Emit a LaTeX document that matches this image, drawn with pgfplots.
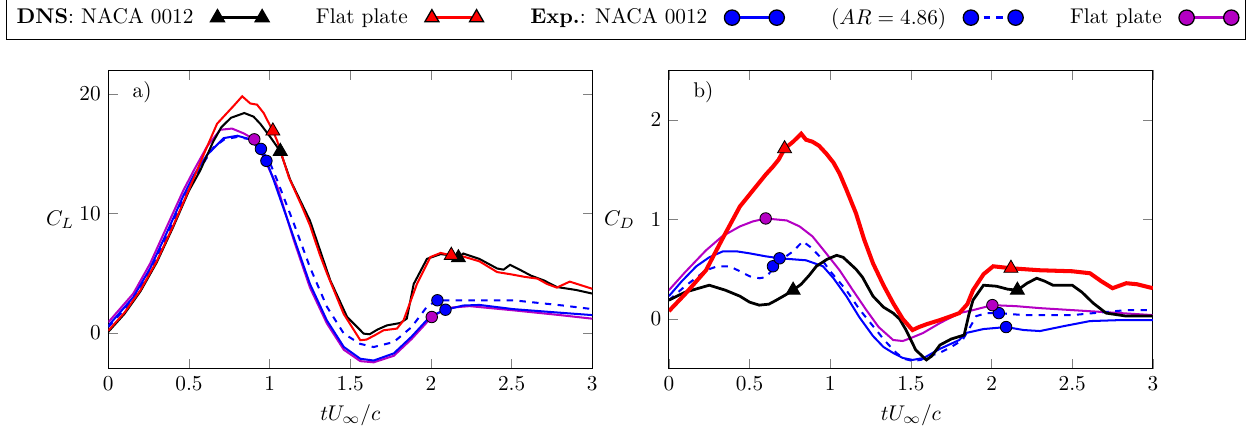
\documentclass[border=0pt]{standalone}
\usepackage{pgfplots}
\pgfplotsset{compat=1.18}
\definecolor{mag}{RGB}{180,0,195}
\definecolor{myblue}{RGB}{0,0,255}
\definecolor{myred}{RGB}{255,0,0}
\begin{document}
\begin{tikzpicture}
\pgfplotsset{
  myax/.style={
    scale only axis, width=227.5pt, height=140.5pt,
    xmin=0, xmax=3, xtick={0,0.5,1,1.5,2,2.5,3},
    xlabel={$tU_\infty/c$},
    every axis y label/.style={at={(axis description cs:-0.055,0.5)},anchor=east},
    major tick length=4.5pt,
  },
  ln/.style={line width=0.95pt},
  tri/.style={only marks, mark=triangle*, mark size=3.8pt, mark options={draw=black, line width=0.7pt}},
  circ/.style={only marks, mark=*, mark size=2.7pt, mark options={draw=black, line width=0.7pt}},
}
% ---------------- C_L ----------------
\begin{axis}[myax, ymin=-3, ymax=22, ytick={0,10,20}, ylabel={$C_L$},
  legend columns=5, legend plot pos=right, legend cell align=left,
  legend image code/.code={\draw[#1] plot coordinates {(0pt,0pt) (21pt,0pt)};},
  legend style={at={(1.069,1.100)}, anchor=south, draw=black, line width=0.5pt,
    inner ysep=3.8pt,
    /tikz/every odd column/.style={column sep=6pt},
    /tikz/every even column/.style={column sep=20pt}},
]
\addlegendimage{black, line width=1.6pt, mark=triangle*, mark size=3.8pt, mark options={fill=black, draw=black, line width=0.6pt}}
\addlegendentry{\textbf{DNS}: NACA 0012}
\addlegendimage{myred, line width=1.6pt, mark=triangle*, mark size=3.8pt, mark options={fill=myred, draw=black, line width=0.6pt}}
\addlegendentry{Flat plate}
\addlegendimage{myblue, line width=1.6pt, mark=*, mark size=3.6pt, mark options={fill=myblue, draw=black, line width=0.6pt}}
\addlegendentry{\textbf{Exp.}: NACA 0012}
\addlegendimage{myblue, line width=1.6pt, dashed, mark=*, mark size=3.6pt, mark options={solid, fill=myblue, draw=black, line width=0.6pt}}
\addlegendentry{$(AR=4.86)$}
\addlegendimage{mag, line width=1.6pt, mark=*, mark size=3.6pt, mark options={fill=mag, draw=black, line width=0.6pt}}
\addlegendentry{Flat plate}
% Exp flat plate
\addplot[mag, ln, forget plot] coordinates {(0,0.9) (0.155,3.3) (0.259,5.8) (0.363,8.9) (0.466,11.95) (0.53,13.6) (0.612,15.6) (0.694,17.0) (0.767,17.1) (0.839,16.7) (0.905,16.2) (0.963,14.7) (1.046,12.3) (1.149,7.8) (1.25,3.8) (1.355,0.8) (1.46,-1.4) (1.562,-2.35) (1.645,-2.45) (1.77,-1.9) (1.88,-0.5) (2.005,1.34) (2.1,2.1) (2.24,2.25) (2.51,1.9) (2.8,1.5) (3.0,1.2)};
% Exp NACA solid
\addplot[myblue, ln, forget plot] coordinates {(0,0.6) (0.155,3.0) (0.259,5.4) (0.363,8.4) (0.466,11.5) (0.53,13.2) (0.612,14.9) (0.715,16.3) (0.80,16.5) (0.88,16.2) (0.946,15.2) (0.98,14.4) (1.025,12.8) (1.149,8.0) (1.25,4.1) (1.355,1.05) (1.46,-1.17) (1.562,-2.15) (1.645,-2.3) (1.77,-1.7) (1.88,-0.3) (1.996,1.4) (2.09,1.95) (2.2,2.3) (2.3,2.35) (2.51,2.0) (2.8,1.7) (3.0,1.5)};
% Exp AR dashed
\addplot[myblue, ln, dashed, forget plot] coordinates {(0,0.5) (0.155,2.8) (0.259,5.2) (0.363,8.1) (0.466,11.2) (0.57,13.8) (0.65,15.5) (0.72,16.2) (0.80,16.4) (0.88,16.2) (0.946,15.4) (1.0,14.3) (1.046,12.8) (1.149,9.2) (1.25,5.5) (1.355,2.2) (1.46,-0.05) (1.56,-0.9) (1.645,-1.17) (1.77,-0.75) (1.88,0.5) (1.975,2.2) (2.04,2.74) (2.24,2.74) (2.51,2.74) (2.82,2.3) (3.0,2.0)};
% DNS NACA
\addplot[black, ln, forget plot] coordinates {(0,0.1) (0.1,1.6) (0.2,3.5) (0.3,5.9) (0.4,8.8) (0.5,11.9) (0.57,13.6) (0.65,16.0) (0.7,17.2) (0.76,18.0) (0.843,18.4) (0.9,18.1) (0.942,17.5) (1.004,16.4) (1.066,15.2) (1.128,12.8) (1.25,9.4) (1.376,4.4) (1.48,1.35) (1.583,-0.05) (1.62,-0.1) (1.67,0.3) (1.727,0.64) (1.81,0.84) (1.85,1.2) (1.893,4.1) (1.975,6.2) (2.06,6.6) (2.12,6.5) (2.17,6.3) (2.2,6.65) (2.3,6.2) (2.41,5.4) (2.45,5.3) (2.49,5.7) (2.55,5.3) (2.62,4.8) (2.7,4.4) (2.78,3.85) (2.9,3.6) (3.0,3.3)};
% DNS flat plate
\addplot[myred, ln, forget plot] coordinates {(0,0.2) (0.1,1.7) (0.2,3.6) (0.3,6.0) (0.4,8.9) (0.5,12.0) (0.6,15.2) (0.674,17.5) (0.715,18.1) (0.777,19.0) (0.83,19.8) (0.88,19.2) (0.922,19.1) (0.963,18.4) (1.02,16.9) (1.046,16.1) (1.12,13.0) (1.2,10.6) (1.25,9.0) (1.31,6.6) (1.355,5.0) (1.459,1.6) (1.562,-0.6) (1.6,-0.55) (1.65,-0.2) (1.706,0.23) (1.789,0.37) (1.83,1.06) (1.872,2.6) (1.913,4.1) (1.996,6.35) (2.06,6.7) (2.126,6.5) (2.2,6.4) (2.3,6.0) (2.41,5.1) (2.5,4.9) (2.58,4.7) (2.66,4.55) (2.72,4.1) (2.78,3.8) (2.86,4.3) (2.93,4.0) (3.0,3.7)};
% markers
\addplot[tri, mark options={fill=black}, forget plot] coordinates {(1.066,15.2) (2.17,6.3)};
\addplot[tri, mark options={fill=myred}, forget plot] coordinates {(1.02,16.9) (2.126,6.5)};
\addplot[circ, mark options={fill=myblue}, forget plot] coordinates {(0.946,15.4) (0.98,14.4) (2.04,2.74) (2.09,1.95)};
\addplot[circ, mark options={fill=mag}, forget plot] coordinates {(0.905,16.2) (2.005,1.34)};
\node[anchor=west] at (axis description cs:0.035,0.925) {a)};
\end{axis}
% ---------------- C_D ----------------
\begin{axis}[myax, at={(263.5pt,0pt)}, ymin=-0.5, ymax=2.5, ytick={0,1,2}, ylabel={$C_D$}]
\addplot[mag, ln] coordinates {(0,0.29) (0.1,0.47) (0.23,0.69) (0.33,0.83) (0.44,0.93) (0.52,0.98) (0.60,1.01) (0.73,0.99) (0.81,0.93) (0.89,0.83) (0.97,0.67) (1.058,0.49) (1.14,0.29) (1.224,0.09) (1.3,-0.08) (1.39,-0.21) (1.45,-0.22) (1.5,-0.19) (1.575,-0.14) (1.68,-0.04) (1.80,0.06) (1.885,0.09) (2.005,0.14) (2.15,0.13) (2.30,0.11) (2.6,0.08) (3.0,0.04)};
\addplot[myblue, ln] coordinates {(0,0.23) (0.08,0.38) (0.17,0.53) (0.25,0.62) (0.335,0.68) (0.42,0.68) (0.5,0.66) (0.6,0.63) (0.686,0.61) (0.77,0.60) (0.85,0.59) (0.955,0.53) (1.02,0.41) (1.10,0.23) (1.18,0.02) (1.265,-0.17) (1.33,-0.28) (1.39,-0.34) (1.45,-0.39) (1.51,-0.41) (1.58,-0.39) (1.678,-0.3) (1.80,-0.21) (1.84,-0.14) (1.95,-0.1) (2.09,-0.08) (2.2,-0.11) (2.30,-0.12) (2.45,-0.07) (2.61,-0.02) (2.8,-0.01) (3.0,-0.01)};
\addplot[myblue, ln, dashed] coordinates {(0,0.19) (0.1,0.33) (0.23,0.49) (0.30,0.53) (0.376,0.53) (0.44,0.48) (0.5,0.43) (0.56,0.41) (0.60,0.42) (0.645,0.50) (0.70,0.60) (0.77,0.68) (0.83,0.78) (0.88,0.72) (0.934,0.63) (1.0,0.48) (1.10,0.29) (1.18,0.1) (1.265,-0.07) (1.34,-0.22) (1.41,-0.34) (1.46,-0.40) (1.51,-0.42) (1.56,-0.41) (1.616,-0.37) (1.678,-0.34) (1.75,-0.28) (1.82,-0.21) (1.86,-0.1) (1.905,0.03) (1.97,0.06) (2.045,0.06) (2.2,0.04) (2.5,0.04) (2.7,0.07) (2.835,0.09) (3.0,0.09)};
\addplot[black, ln, line width=1.3pt] coordinates {(0,0.19) (0.1,0.27) (0.25,0.34) (0.35,0.29) (0.44,0.23) (0.5,0.17) (0.56,0.14) (0.62,0.15) (0.666,0.19) (0.72,0.24) (0.77,0.29) (0.82,0.35) (0.87,0.44) (0.914,0.53) (0.98,0.6) (1.04,0.64) (1.08,0.62) (1.12,0.56) (1.16,0.50) (1.2,0.42) (1.265,0.23) (1.33,0.12) (1.39,0.06) (1.43,0.0) (1.47,-0.11) (1.53,-0.31) (1.596,-0.41) (1.63,-0.37) (1.68,-0.26) (1.75,-0.2) (1.83,-0.16) (1.86,0.05) (1.885,0.19) (1.95,0.34) (2.03,0.33) (2.1,0.3) (2.16,0.29) (2.22,0.36) (2.28,0.41) (2.33,0.38) (2.38,0.34) (2.5,0.34) (2.56,0.27) (2.63,0.16) (2.71,0.06) (2.835,0.03) (3.0,0.03)};
\addplot[myred, line width=1.9pt] coordinates {(0,0.08) (0.1,0.25) (0.23,0.49) (0.33,0.8) (0.44,1.13) (0.55,1.35) (0.6,1.45) (0.645,1.53) (0.68,1.6) (0.717,1.71) (0.77,1.78) (0.82,1.86) (0.85,1.8) (0.89,1.78) (0.93,1.74) (0.976,1.66) (1.02,1.57) (1.058,1.46) (1.1,1.3) (1.16,1.06) (1.21,0.8) (1.265,0.56) (1.33,0.34) (1.39,0.16) (1.45,0.0) (1.51,-0.11) (1.55,-0.08) (1.6,-0.05) (1.68,-0.01) (1.75,0.03) (1.80,0.06) (1.85,0.15) (1.885,0.29) (1.95,0.45) (2.01,0.53) (2.12,0.51) (2.3,0.49) (2.5,0.48) (2.61,0.46) (2.68,0.38) (2.75,0.31) (2.835,0.36) (2.9,0.35) (3.0,0.31)};
\addplot[tri, mark options={fill=black}] coordinates {(0.77,0.29) (2.16,0.29)};
\addplot[tri, mark options={fill=myred}] coordinates {(0.717,1.71) (2.12,0.51)};
\addplot[circ, mark options={fill=myblue}] coordinates {(0.645,0.53) (0.686,0.61) (2.045,0.06) (2.09,-0.08)};
\addplot[circ, mark options={fill=mag}] coordinates {(0.60,1.01) (2.005,0.14)};
\node[anchor=west] at (axis description cs:0.035,0.925) {b)};
\end{axis}
\pgfresetboundingbox
\useasboundingbox (-50.9pt,-29.1pt) rectangle (540.4pt,173.4pt);
\end{tikzpicture}
\end{document}
